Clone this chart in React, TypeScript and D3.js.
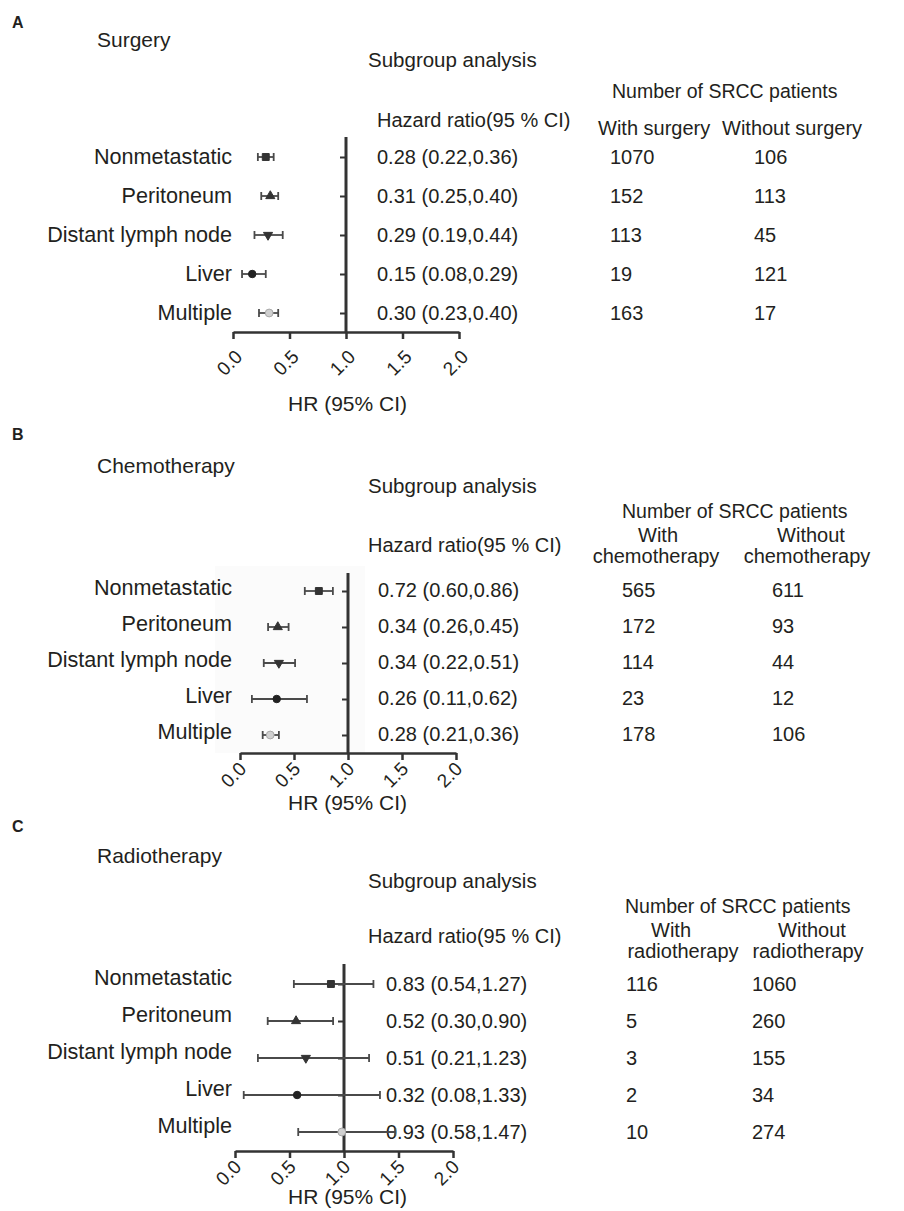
import React, { useEffect, useRef } from "react";
import * as d3 from "d3";

const subgroups = ["Nonmetastatic", "Peritoneum", "Distant lymph node", "Liver", "Multiple"];
const axisTicks = [0, 0.5, 1, 1.5, 2];

// A - surgery
const surgeryHr = [0.28, 0.31, 0.29, 0.15, 0.3];
const surgeryLow = [0.22, 0.25, 0.19, 0.08, 0.23];
const surgeryHigh = [0.36, 0.4, 0.44, 0.29, 0.4];
const surgeryPlotted = [0.29, 0.33, 0.31, 0.17, 0.32];
const surgeryWith = [1070, 152, 113, 19, 163];
const surgeryWithout = [106, 113, 45, 121, 17];

// B - chemotherapy
const chemoHr = [0.72, 0.34, 0.34, 0.26, 0.28];
const chemoLow = [0.6, 0.26, 0.22, 0.11, 0.21];
const chemoHigh = [0.86, 0.45, 0.51, 0.62, 0.36];
const chemoPlotted = [0.73, 0.35, 0.36, 0.34, 0.28];
const chemoWith = [565, 172, 114, 23, 178];
const chemoWithout = [611, 93, 44, 12, 106];

// C - radiotherapy
const radioHr = [0.83, 0.52, 0.51, 0.32, 0.93];
const radioLow = [0.54, 0.3, 0.21, 0.08, 0.58];
const radioHigh = [1.27, 0.9, 1.23, 1.33, 1.47];
const radioPlotted = [0.88, 0.56, 0.65, 0.57, 0.98];
const radioWith = [116, 5, 3, 2, 10];
const radioWithout = [1060, 260, 155, 34, 274];

const font = "'Liberation Sans', Arial, sans-serif";
const ink = "#231f20";
const barInk = "#4a4a4a";

type Head = { text: string; x: number; y: number; anchor: string };

const panels = [
  {
    letter: "A", letterY: 28, title: "Surgery", titleY: 47,
    subY: 67, numX: 612, numY: 98, hazX: 377, hazY: 127,
    heads: [
      { text: "With surgery", x: 598, y: 135, anchor: "start" },
      { text: "Without surgery", x: 722, y: 135, anchor: "start" },
    ] as Head[],
    hr: surgeryHr, lo: surgeryLow, hi: surgeryHigh, pts: surgeryPlotted,
    withN: surgeryWith, withoutN: surgeryWithout,
    x0: 233, x1: 459, rowTop: 157, rowBottom: 313, axisTop: 137, axisBottom: 332,
    labelDy: 7, valueX: 377, valueDy: 7, withX: 610, withoutX: 754,
    tickDx: 10, tickDy: 26, hrLabelY: 411, shade: false,
  },
  {
    letter: "B", letterY: 440, title: "Chemotherapy", titleY: 473,
    subY: 493, numX: 622, numY: 518, hazX: 368, hazY: 552,
    heads: [
      { text: "With", x: 658, y: 542, anchor: "middle" },
      { text: "chemotherapy", x: 656, y: 563, anchor: "middle" },
      { text: "Without", x: 811, y: 542, anchor: "middle" },
      { text: "chemotherapy", x: 807, y: 563, anchor: "middle" },
    ] as Head[],
    hr: chemoHr, lo: chemoLow, hi: chemoHigh, pts: chemoPlotted,
    withN: chemoWith, withoutN: chemoWithout,
    x0: 240, x1: 456, rowTop: 591, rowBottom: 735, axisTop: 573, axisBottom: 753,
    labelDy: 4, valueX: 378, valueDy: 6, withX: 622, withoutX: 772,
    tickDx: 7, tickDy: 17, hrLabelY: 810, shade: true,
  },
  {
    letter: "C", letterY: 832, title: "Radiotherapy", titleY: 863,
    subY: 888, numX: 625, numY: 913, hazX: 368, hazY: 943,
    heads: [
      { text: "With", x: 671, y: 937, anchor: "middle" },
      { text: "radiotherapy", x: 683, y: 958, anchor: "middle" },
      { text: "Without", x: 812, y: 937, anchor: "middle" },
      { text: "radiotherapy", x: 808, y: 958, anchor: "middle" },
    ] as Head[],
    hr: radioHr, lo: radioLow, hi: radioHigh, pts: radioPlotted,
    withN: radioWith, withoutN: radioWithout,
    x0: 235, x1: 453, rowTop: 984, rowBottom: 1132, axisTop: 964, axisBottom: 1151,
    labelDy: 1, valueX: 386, valueDy: 7, withX: 626, withoutX: 752,
    tickDx: 7, tickDy: 17, hrLabelY: 1204, shade: false,
  },
];

const markers = [
  { type: d3.symbolSquare, size: 48, fill: "#333", stroke: "#333", rotate: 0 },
  { type: d3.symbolTriangle, size: 36, fill: "#333", stroke: "#333", rotate: 0 },
  { type: d3.symbolTriangle, size: 36, fill: "#333", stroke: "#333", rotate: 180 },
  { type: d3.symbolCircle, size: 44, fill: "#222", stroke: "#222", rotate: 0 },
  { type: d3.symbolCircle, size: 48, fill: "#d0d0d0", stroke: "#a8a8a8", rotate: 0 },
];

function addText(g: any, text: string, x: number, y: number, size: number, anchor = "start", weight = "normal") {
  g.append("text")
    .attr("x", x)
    .attr("y", y)
    .attr("font-size", size)
    .attr("font-family", font)
    .attr("font-weight", weight)
    .attr("text-anchor", anchor)
    .attr("fill", ink)
    .text(text);
}

function drawPanel(svg: any, p: any) {
  const g = svg.append("g");
  const x = d3.scaleLinear().domain([0, 2]).range([p.x0, p.x1]);
  const y = d3.scalePoint<string>().domain(subgroups).range([p.rowTop, p.rowBottom]);

  // headings
  addText(g, p.letter, 12, p.letterY, 16, "start", "bold");
  addText(g, p.title, 97, p.titleY, 21);
  addText(g, "Subgroup analysis", 368, p.subY, 20.5);
  addText(g, "Number of SRCC patients", p.numX, p.numY, 19.5);
  addText(g, "Hazard ratio(95  % CI)", p.hazX, p.hazY, 20);
  p.heads.forEach((h: Head) => addText(g, h.text, h.x, h.y, 20, h.anchor));

  if (p.shade) {
    g.append("rect")
      .attr("x", 215).attr("y", 566)
      .attr("width", 150).attr("height", p.axisBottom - 566)
      .attr("fill", "#fbfbfb");
  }

  // vertical reference line at HR = 1
  g.append("line")
    .attr("x1", x(1)).attr("x2", x(1))
    .attr("y1", p.axisTop).attr("y2", p.axisBottom)
    .attr("stroke", "#333").attr("stroke-width", 3);

  const yAxis = g.append("g")
    .attr("transform", `translate(${x(1)},0)`)
    .call(d3.axisLeft(y).tickSize(6).tickFormat(() => ""));
  yAxis.select(".domain").remove();
  yAxis.selectAll(".tick line").attr("stroke", "#333").attr("stroke-width", 2);

  const xAxis = g.append("g")
    .attr("transform", `translate(0,${p.axisBottom})`)
    .call(d3.axisBottom(x).tickValues(axisTicks).tickFormat(d3.format(".1f")).tickSize(7).tickSizeOuter(0));
  xAxis.select(".domain").attr("stroke", "#333").attr("stroke-width", 2.5);
  xAxis.selectAll(".tick line").attr("stroke", "#333").attr("stroke-width", 2.5);
  xAxis.selectAll(".tick text")
    .attr("x", 0).attr("y", 0).attr("dy", 0)
    .attr("font-size", 19)
    .attr("font-family", font)
    .attr("fill", ink)
    .attr("text-anchor", "end")
    .attr("transform", `translate(${p.tickDx},${p.tickDy}) rotate(-45)`);

  addText(g, "HR (95% CI)", 288, p.hrLabelY, 21);

  // rows
  subgroups.forEach((name, i) => {
    const cy = y(name) as number;
    addText(g, name, 232, cy + p.labelDy, 21.6, "end");
    const txt = `${p.hr[i].toFixed(2)} (${p.lo[i].toFixed(2)},${p.hi[i].toFixed(2)})`;
    addText(g, txt, p.valueX, cy + p.valueDy, 20);
    addText(g, String(p.withN[i]), p.withX, cy + p.valueDy, 20);
    addText(g, String(p.withoutN[i]), p.withoutX, cy + p.valueDy, 20);

    g.append("line")
      .attr("x1", x(p.lo[i])).attr("x2", x(p.hi[i]))
      .attr("y1", cy).attr("y2", cy)
      .attr("stroke", barInk).attr("stroke-width", 1.8);
    [p.lo[i], p.hi[i]].forEach((v: number) => {
      g.append("line")
        .attr("x1", x(v)).attr("x2", x(v))
        .attr("y1", cy - 4).attr("y2", cy + 4)
        .attr("stroke", barInk).attr("stroke-width", 1.8);
    });

    const m = markers[i];
    g.append("path")
      .attr("d", d3.symbol().type(m.type).size(m.size)())
      .attr("transform", `translate(${x(p.pts[i])},${cy}) rotate(${m.rotate})`)
      .attr("fill", m.fill)
      .attr("stroke", m.stroke)
      .attr("stroke-width", 1);
  });
}

export default function App() {
  const ref = useRef<SVGSVGElement>(null);

  useEffect(() => {
    const svg = d3.select(ref.current);
    svg.selectAll("*").remove();
    panels.forEach(p => drawPanel(svg, p));
  }, []);

  return (
    <svg
      ref={ref}
      width={904}
      height={1211}
      style={{ position: "absolute", left: 0, top: 0, background: "#fff" }}
    />
  );
}
